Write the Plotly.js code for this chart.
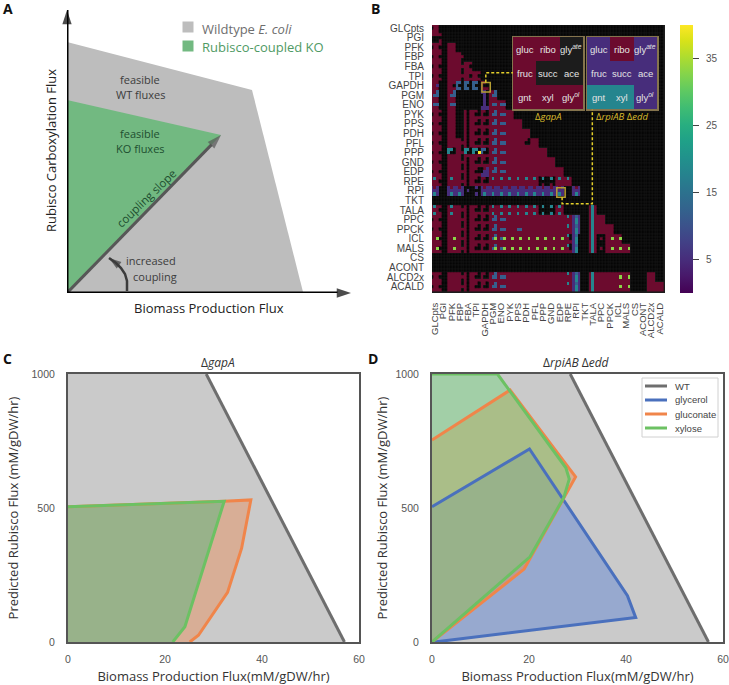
<!DOCTYPE html>
<html><head><meta charset="utf-8">
<script src="https://cdn.plot.ly/plotly-3.0.1.min.js"></script>
<style>html,body{margin:0;padding:0;background:#fff}#g{width:729px;height:685px}</style>
</head><body><div id="g"></div>
<script>
// ---------- Panel B data ----------
const reactions = ["GLCpts","PGI","PFK","FBP","FBA","TPI","GAPDH","PGM","ENO","PYK","PPS","PDH","PFL","PPP","GND","EDP","RPE","RPI","TKT","TALA","PPC","PPCK","ICL","MALS","CS","ACONT","ALCD2x","ACALD"];
// one character per reaction pair
const pairRows = [
"A...........................",
"Io..........................",
"AoR.........................",
"AoRH........................",
"AoRHJ.......................",
"AoRHJJ......................",
"a.JCCCG.....................",
"B.B...WB....................",
"D.D...VDD...................",
"AoR.FGGBDR..................",
"AoR.FGGBDRR.................",
"AoR.FGGBDRRR................",
"AoRHFGGBDRRGR...............",
"AocHcYeBDRRRRR..............",
"AoRHFGGBDRRRRRR.............",
"AoRHFGfBDRRRRRRR............",
"ToTHFGGTTTTTTttTT...........",
"P.PPgsPPPPPPPPPP.P..........",
"............................",
"UoUHFGGUUUUUUuuU...X........",
"AoRHFGGBDRRRRRRRTQ.XR.......",
"AoRHFGGBDRDRRRRRTQ.XRR......",
"LoLHFGGMmLLLLLLLnq.XZLL.....",
"LoLHFGGMmLLLLLLLnq.XZLLL....",
"............................",
"............................",
"AoRHFGGBDRRRRRRRTQ.XRRLL..R.",
"AoRHFGGBDRRRRRRRTQ.XRRLL..RR"
];
// the nine growth conditions of each pair: gluc ribo gly-ate / fruc succ ace / gnt xyl gly-ol
const conditionPatterns = {
".":"kkkkkkkkk", R:"rrrrrrrrr", A:"rrrkrrrrr", o:"rkkkkkrkk", I:"rrrkkkkkk", J:"rrrrrkrrr", H:"rrkrrrrrk", F:"rkrrkrrkr",
G:"rrkrkkrrr", B:"rrbrbbrrr", D:"rrrrbbrrr", C:"bbkbkkbbk", a:"rrrrrprrr", W:"ppkkpkkpk", V:"kpkkpkppp",
c:"ttktkkrrr", Y:"ttktkyrrr", e:"bbkbkkrrr", f:"krpkppppp", T:"rtrrrrrrr", t:"ktkkkkkrk", U:"rtrrrrrtr", u:"ktkkkkktk",
P:"prppppptp", g:"kkkkpkkkk", s:"kpkkkkkpk", Q:"pbpptpptp", q:"pbkptkptk", X:"rtrrtrrtr", Z:"kkkkrkkkk",
L:"rrrrrlrrr", M:"rrbrblrrr", m:"rrrrblrrr", n:"rtkrrkrrr"
};
const conditionValues = {b:12, t:18, p:5, l:33, y:40};
const insetGapA = "rrkrkkrrr";
const insetRpi = "prppppttp";
const insetLabels = ["gluc","ribo","gly<sup><i>ate</i></sup>","fruc","succ","ace","gnt","xyl","gly<sup><i>ol</i></sup>"];
const barTicks = [5,15,25,35];

// ---------- Panel A data (schematic flux units) ----------
const wtSchemX = [0,0,185,236,0];
const wtSchemY = [0,251,203,1,0];
const koSchemX = [0,0,154,0];
const koSchemY = [0,193,158,0];
const slopeX = [0,154], slopeY = [0,158];
const bioAxisX = [0,284], bioAxisY = [0,0];
const rubAxisX = [0,0], rubAxisY = [0,283];
const curveX = [60,60,58,54,49,42];
const curveY = [2,12,19,25,30,35];

// ---------- Panels C, D data ----------
const wtX = [0,0,28.5,57,0];
const wtY = [0,1000,1000,0,0];
const wtEdgeX = [28.5,57];
const wtEdgeY = [1000,0];
const cGntX = [0,0,32.2,37.7,35.8,32.9,26.9,25.1,0];
const cGntY = [0,505,525,530,350,185,25,0,0];
const cXylX = [0,0,32.2,24.1,21.6,0];
const cXylY = [0,505,525,57,0,0];
const cGlyX = [0,0,32.2,24.1,21.6,0];
const cGlyY = [0,505,525,57,0,0];
const dGlyX = [0,0,20.1,40.3,42,0.5,0];
const dGlyY = [0,505,720,173,91,0,0];
const dGntX = [0,0,16.1,29.6,19,0,0];
const dGntY = [0,754,940,616,272,0,0];
const dXylX = [0,0,13.5,27.6,28.3,27.2,20.2,0,0];
const dXylY = [0,1000,1000,650,608,540,318,0,0];
const legendNames = ["WT","glycerol","gluconate","xylose"];

// ---------- helpers ----------
const W=729,H=685;
const xd=(a,b)=>[a/W,b/W], yd=(t,b)=>[1-b/H,1-t/H], px=x=>x/W, py=y=>1-y/H;
const MAIN='"Open Sans",sans-serif', ARIAL='"Liberation Sans",Arial,sans-serif';
const RED='#6c0b2e';
function layers(grid,xa,ya,colorbar,black,gap){
  const n=grid.length, m=grid[0].length;
  const red=[],blk=[],val=[];
  for(let i=0;i<n;i++){red.push([]);blk.push([]);val.push([]);
    for(let j=0;j<m;j++){const c=grid[i][j];
      red[i].push(c==='r'?1:null);
      blk[i].push(c==='k'?1:null);
      val[i].push(conditionValues[c]===undefined?null:conditionValues[c]);}}
  const base={type:'heatmap',xaxis:xa,yaxis:ya,hoverinfo:'skip',showscale:false,zmin:0,zmax:1};
  const out=[
    Object.assign({},base,{z:red,colorscale:[[0,RED],[1,RED]]}),
    Object.assign({},base,{z:blk,colorscale:[[0,black],[1,black]],xgap:gap,ygap:gap}),
    Object.assign({},base,{z:val,colorscale:'Viridis',zmin:0,zmax:40})
  ];
  if(colorbar){out[2].showscale=true;out[2].colorbar=colorbar;}
  return out;
}
// expand pair table to the 84x84 grid
const grid=[];
pairRows.forEach(row=>{
  for(let a=0;a<3;a++){const line=[];
    for(const ch of row){const p=conditionPatterns[ch];for(let b=0;b<3;b++)line.push(p[a*3+b]);}
    grid.push(line);}
});
const toGrid=s=>[s.slice(0,3).split(''),s.slice(3,6).split(''),s.slice(6,9).split('')];

const traces=[];
traces.push(...layers(grid,'x','y',{x:px(680),xanchor:'left',y:py(25),yanchor:'top',len:268/H,lenmode:'fraction',thickness:13,
  tickvals:barTicks,ticktext:barTicks.map(v=>'\u00A0\u00A0'+v),ticks:'outside',ticklen:6,tickcolor:'#444',tickwidth:1.5,tickfont:{family:ARIAL,size:10,color:'#555'},outlinewidth:0,xpad:0,ypad:0},'#050505',0.5));
traces.push(...layers(toGrid(insetGapA),'x2','y2',null,'#1c1c1c',0));
traces.push(...layers(toGrid(insetRpi),'x3','y3',null,'#1c1c1c',0));

const fillLine=(xs,ys,fill,xa,ya)=>({type:'scatter',mode:'lines',x:xs,y:ys,fill:'toself',fillcolor:fill,line:{width:0},xaxis:xa,yaxis:ya,hoverinfo:'skip',showlegend:false});
const outline=(xs,ys,col,w,xa,ya)=>({type:'scatter',mode:'lines',x:xs,y:ys,line:{color:col,width:w,simplify:false},xaxis:xa,yaxis:ya,hoverinfo:'skip',showlegend:false});
const inner=a=>a.slice(1,-1);
const headed=(xs,ys,col,w,size)=>({type:'scatter',mode:'lines+markers',x:xs,y:ys,line:{color:col,width:w},
  marker:{symbol:xs.map((_,i)=>i===xs.length-1?'arrow':'circle'),size:xs.map((_,i)=>i===xs.length-1?size:0),color:col,angleref:'previous',line:{width:0}},
  xaxis:'x4',yaxis:'y4',hoverinfo:'skip',showlegend:false,cliponaxis:false});

// Panel A
traces.push(fillLine(wtSchemX,wtSchemY,'#bdbdbd','x4','y4'));
traces.push(fillLine(koSchemX,koSchemY,'#72b981','x4','y4'));
traces.push({type:'scatter',mode:'markers',x:[121,121],y:[266,247],marker:{symbol:'square',size:11,color:['#bdbdbd','#72b981']},xaxis:'x4',yaxis:'y4',hoverinfo:'skip',showlegend:false});
traces.push(headed(slopeX,slopeY,'#575757',3,15));
traces.push(headed(bioAxisX,bioAxisY,'#000',3,15));
traces.push(headed(rubAxisX,rubAxisY,'#000',3,15));
traces.push(headed(curveX,curveY,'#3c3c3c',2.5,13));

// Panel C
const GRAY='#6e6e6e',BLUE='#4a70bd',ORANGE='#f0854a',GREEN='#6cc163';
const FB='rgba(76,121,216,0.4)',FO='rgba(238,133,73,0.4)',FG='rgba(103,216,114,0.4)';
traces.push(fillLine(wtX,wtY,'#cacaca','x5','y5'));
traces.push(fillLine(cGlyX,cGlyY,FB,'x5','y5'));
traces.push(fillLine(cGntX,cGntY,FO,'x5','y5'));
traces.push(fillLine(cXylX,cXylY,FG,'x5','y5'));
traces.push(outline(wtEdgeX,wtEdgeY,GRAY,3,'x5','y5'));
traces.push(outline(inner(cGntX),inner(cGntY),ORANGE,3,'x5','y5'));
traces.push(outline(inner(cXylX),inner(cXylY),GREEN,3,'x5','y5'));

// Panel D
traces.push(fillLine(wtX,wtY,'#cacaca','x6','y6'));
traces.push(fillLine(dGlyX,dGlyY,FB,'x6','y6'));
traces.push(fillLine(dGntX,dGntY,FO,'x6','y6'));
traces.push(fillLine(dXylX,dXylY,FG,'x6','y6'));
traces.push(outline(wtEdgeX,wtEdgeY,GRAY,3,'x6','y6'));
traces.push(outline(inner(dGlyX),inner(dGlyY),BLUE,3,'x6','y6'));
traces.push(outline(inner(dGntX),inner(dGntY),ORANGE,3,'x6','y6'));
traces.push(outline(inner(dXylX),inner(dXylY),GREEN,3,'x6','y6'));

const tickFont={family:ARIAL,size:10.5,color:'#555'};
const titleFont={family:MAIN,size:13,color:'#333'};
const fluxAxis=(dom,anchor,range,vals,text,standoff,len)=>({domain:dom,anchor,range,tickvals:vals,ticktext:vals.map(String),tickfont:tickFont,ticks:'outside',tickcolor:'rgba(0,0,0,0)',
  showgrid:false,zeroline:false,showline:true,mirror:true,linecolor:'#555',linewidth:2,ticklen:len,title:{text,font:titleFont,standoff}});
const insetAxis=(dom,anchor,rev)=>({domain:dom,anchor,range:rev?[2.5,-0.5]:[-0.5,2.5],showticklabels:false,ticks:'',showgrid:false,zeroline:false,showline:true,mirror:true,linecolor:'#85744d',linewidth:1.5});
const centers=reactions.map((_,i)=>1+3*i);

const ann=[];
const txt=(x,y,text,size,color,extra)=>ann.push(Object.assign({xref:'paper',yref:'paper',x:px(x),y:py(y),text,showarrow:false,font:{family:MAIN,size,color},xanchor:'center',yanchor:'middle'},extra||{}));
// panel letters
txt(8,8,'<b>A</b>',14,'#111'); txt(375,8,'<b>B</b>',14,'#111'); txt(8,358,'<b>C</b>',14,'#111'); txt(373,358,'<b>D</b>',14,'#111');
// panel A texts
txt(200,29,'Wildtype <i>E. coli</i>',13,'#6e6e6e',{xanchor:'left'});
txt(200,47,'Rubisco-coupled KO',13,'#4f9a64',{xanchor:'left'});
txt(140,79,'feasible',11,'#3c3c3c'); txt(140,94,'WT fluxes',11,'#3c3c3c');
txt(140,133,'feasible',11,'#1e4f30'); txt(140,148,'KO fluxes',11,'#1e4f30');
txt(146,199,'coupling slope',11.5,'#1e4f30',{textangle:-44});
txt(151,260,'increased',11,'#3c3c3c'); txt(155,276,'coupling',11,'#3c3c3c');
txt(209,308,'Biomass Production Flux',13,'#222');
txt(51,151,'Rubisco Carboxylation Flux',13,'#222',{textangle:-90});
// inset labels
insetLabels.forEach((t,i)=>{
  const r=Math.floor(i/3),c=i%3;
  ['x2','x3'].forEach(xa=>ann.push({xref:xa,yref:'y'+xa[1],x:c,y:r,text:t,showarrow:false,font:{family:ARIAL,size:9.5,color:'#e4e4e4'}}));
});
txt(548,116,'Δ<i>gapA</i>',9.5,'#d9bb2c'); txt(622,116,'Δ<i>rpiAB</i> Δ<i>edd</i>',9.5,'#d9bb2c');
// panel titles
txt(218,362,'Δ<i>gapA</i>',12,'#333'); txt(576,362,'Δ<i>rpiAB</i> Δ<i>edd</i>',12,'#333');

const YEL='#e4cf2a', BOX='#b69f32';
const shapes=[
 {type:'rect',xref:'x',yref:'y',x0:0,x1:84,y0:0,y1:84,fillcolor:'#1d1d1d',line:{width:0},layer:'below'},
 {type:'rect',xref:'x',yref:'y',x0:18,x1:21,y0:18,y1:21,line:{color:BOX,width:1.5}},
 {type:'rect',xref:'x',yref:'y',x0:45,x1:48,y0:51,y1:54,line:{color:BOX,width:1.5}},
 {type:'path',xref:'x',yref:'y',path:'M 19.4,18 L 19.4,15 L 29.2,15',line:{color:YEL,width:1.5,dash:'3px,2px'}},
 {type:'path',xref:'x',yref:'y',path:'M 46.9,54 L 46.9,56 L 57.8,56 L 57.8,26.6',line:{color:YEL,width:1.5,dash:'3px,2px'}},
 // legend of panel D
 {type:'rect',xref:'paper',yref:'paper',x0:px(642),x1:px(718),y0:py(378),y1:py(437),fillcolor:'#fff',line:{color:'#d0d0d0',width:1}}
];
[GRAY,BLUE,ORANGE,GREEN].forEach((c,i)=>{
  const yy=386+14*i;
  shapes.push({type:'line',xref:'paper',yref:'paper',x0:px(645),x1:px(667),y0:py(yy),y1:py(yy),line:{color:c,width:3}});
  txt(673,yy,legendNames[i],9.5,'#444',{xanchor:'left'});
  ann[ann.length-1].font.family=ARIAL;
});

const layout={
 width:W,height:H,margin:{l:0,r:0,t:0,b:0},paper_bgcolor:'#fff',plot_bgcolor:'rgba(0,0,0,0)',showlegend:false,
 font:{family:ARIAL},annotations:ann,shapes,
 xaxis:{domain:xd(432,665),anchor:'y',range:[0,84],tickvals:centers,ticktext:reactions,tickangle:-90,tickfont:{family:ARIAL,size:9.5,color:'#444'},ticks:'outside',ticklen:5,tickcolor:'rgba(0,0,0,0)',showgrid:false,zeroline:false,showline:false},
 yaxis:{domain:yd(25,293),anchor:'x',range:[84,0],tickvals:centers,ticktext:reactions,tickfont:{family:ARIAL,size:10,color:'#444'},ticks:'outside',ticklen:5,tickcolor:'rgba(0,0,0,0)',showgrid:false,zeroline:false,showline:false},
 xaxis2:insetAxis(xd(513,583),'y2',false), yaxis2:insetAxis(yd(37,109),'x2',true),
 xaxis3:insetAxis(xd(587,657),'y3',false), yaxis3:insetAxis(yd(37,109),'x3',true),
 xaxis4:{domain:xd(67,351),anchor:'y4',range:[0,284],visible:false},
 yaxis4:{domain:yd(10,293),anchor:'x4',range:[0,283],visible:false},
 xaxis5:fluxAxis(xd(68,359),'y5',[0,60],[0,20,40,60],'Biomass Production Flux(mM/gDW/hr)',12,6),
 yaxis5:fluxAxis(yd(374,642),'x5',[0,1000],[0,500,1000],'Predicted Rubisco Flux (mM/gDW/hr)',10,9),
 xaxis6:fluxAxis(xd(432,723),'y6',[0,60],[0,20,40,60],'Biomass Production Flux(mM/gDW/hr)',12,6),
 yaxis6:fluxAxis(yd(374,642),'x6',[0,1000],[0,500,1000],'Predicted Rubisco Flux (mM/gDW/hr)',5,9)
};
Plotly.newPlot('g',traces,layout,{displayModeBar:false,staticPlot:true}).then(gd=>{
  // axes without a title leave an empty placeholder text element behind
  gd.querySelectorAll('text').forEach(t=>{if(!t.textContent.trim())t.remove();});
});
</script></body></html>
